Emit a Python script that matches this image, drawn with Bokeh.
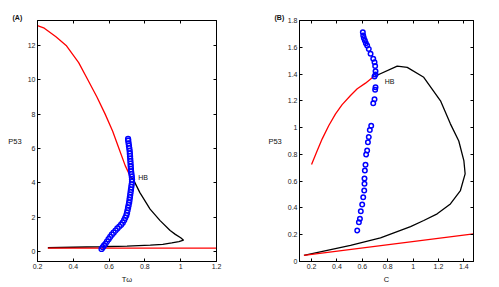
from bokeh.plotting import figure
from bokeh.layouts import row
from bokeh.models import Range1d, FixedTicker, LinearAxis, Label, Title
from bokeh.embed import file_html
from bokeh.resources import INLINE

# ---------------- Panel A data ----------------
a_red_upper_x = [0.2, 0.238, 0.303, 0.36, 0.43, 0.481, 0.532, 0.578, 0.62, 0.655, 0.69, 0.722]
a_red_upper_y = [13.15, 13.0, 12.5, 12.0, 11.0, 10.0, 9.0, 8.0, 7.0, 6.0, 5.0, 4.3]
a_red_lower_x = [0.258, 1.2]
a_red_lower_y = [0.2, 0.2]
a_black_x = [0.258, 0.4, 0.55, 0.7, 0.83, 0.9, 0.95, 0.99, 1.016, 1.0, 0.97, 0.941, 0.885, 0.829, 0.772, 0.735, 0.724]
a_black_y = [0.22, 0.25, 0.28, 0.32, 0.37, 0.42, 0.5, 0.58, 0.66, 0.8, 1.0, 1.22, 1.8, 2.47, 3.43, 4.2, 4.3]
a_blue_x = [0.558, 0.565, 0.572, 0.58, 0.588, 0.597, 0.606, 0.615, 0.625, 0.636, 0.646, 0.657,
            0.667, 0.676, 0.684, 0.69, 0.696, 0.7, 0.703, 0.706, 0.709, 0.712, 0.714, 0.716,
            0.718, 0.72, 0.722, 0.724, 0.726, 0.728, 0.728, 0.727, 0.725, 0.723, 0.722, 0.721,
            0.72, 0.719, 0.718, 0.717, 0.716, 0.715, 0.713, 0.711, 0.709, 0.707, 0.706]
a_blue_y = [0.15, 0.25, 0.35, 0.45, 0.58, 0.72, 0.85, 0.98, 1.1, 1.22, 1.34, 1.45,
            1.56, 1.68, 1.82, 1.96, 2.1, 2.25, 2.4, 2.55, 2.7, 2.85, 3.0, 3.15,
            3.3, 3.45, 3.6, 3.75, 3.9, 4.05, 4.2, 4.35, 4.5, 4.65, 4.8, 4.95,
            5.1, 5.25, 5.4, 5.55, 5.7, 5.85, 6.0, 6.15, 6.3, 6.45, 6.55]
a_xticks = [0.2, 0.4, 0.6, 0.8, 1.0, 1.2]
a_xtick_labels = ["0.2", "0.4", "0.6", "0.8", "1", "1.2"]
a_yticks = [0, 2, 4, 6, 8, 10, 12]
a_ytick_labels = ["0", "2", "4", "6", "8", "10", "12"]

# ---------------- Panel B data ----------------
b_red_upper_x = [0.2, 0.245, 0.284, 0.336, 0.389, 0.441, 0.507, 0.56, 0.625, 0.69]
b_red_upper_y = [0.724, 0.829, 0.916, 1.016, 1.103, 1.172, 1.24, 1.29, 1.332, 1.382]
b_red_lower_x = [0.14, 1.476]
b_red_lower_y = [0.045, 0.207]
b_black_x = [0.69, 0.875, 0.954, 1.084, 1.216, 1.294, 1.36, 1.40, 1.41, 1.373, 1.294, 1.19, 1.084, 0.98, 0.743, 0.507, 0.14]
b_black_y = [1.38, 1.459, 1.45, 1.376, 1.2, 1.028, 0.90, 0.754, 0.655, 0.53, 0.43, 0.356, 0.306, 0.261, 0.177, 0.12, 0.045]
b_blue_x = [0.604, 0.607, 0.612, 0.62, 0.628, 0.638, 0.651, 0.665, 0.686, 0.696, 0.701, 0.704,
            0.704, 0.696, 0.704, 0.701, 0.696, 0.686, 0.670, 0.659, 0.651, 0.644, 0.638, 0.630,
            0.625, 0.620, 0.617, 0.617, 0.615, 0.607, 0.599, 0.588, 0.581, 0.573, 0.560]
b_blue_y = [1.713, 1.688, 1.670, 1.65, 1.63, 1.613, 1.588, 1.551, 1.514, 1.489, 1.461, 1.421,
            1.397, 1.382, 1.302, 1.282, 1.212, 1.182, 1.013, 0.983, 0.929, 0.891, 0.829, 0.799,
            0.722, 0.680, 0.620, 0.580, 0.530, 0.480, 0.426, 0.376, 0.319, 0.294, 0.232]
b_xticks = [0.2, 0.4, 0.6, 0.8, 1.0, 1.2, 1.4]
b_xtick_labels = ["0.2", "0.4", "0.6", "0.8", "1", "1.2", "1.4"]
b_yticks = [0, 0.2, 0.4, 0.6, 0.8, 1.0, 1.2, 1.4, 1.6, 1.8]
b_ytick_labels = ["0", "0.2", "0.4", "0.6", "0.8", "1", "1.2", "1.4", "1.6", "1.8"]

FONT = "Liberation Sans"
FS = "7px"


def style_axis(ax, ticks, labels, show_labels, axis_label=None):
    ax.ticker = FixedTicker(ticks=ticks)
    ax.major_label_overrides = {t: (l if show_labels else "") for t, l in zip(ticks, labels)}
    ax.major_tick_in = 3
    ax.major_tick_out = 0
    ax.minor_tick_in = 0
    ax.minor_tick_out = 0
    ax.axis_line_color = "black"
    ax.major_tick_line_color = "black"
    ax.major_label_text_font = FONT
    ax.major_label_text_font_size = FS if show_labels else "1px"
    ax.major_label_text_color = "#222222"
    ax.major_label_standoff = 2
    if axis_label:
        ax.axis_label = axis_label
        ax.axis_label_text_font = FONT
        ax.axis_label_text_font_size = "7.5px"
        ax.axis_label_text_font_style = "normal"
        ax.axis_label_text_color = "#111111"
        ax.axis_label_standoff = 3
        ax.axis_label_orientation = "horizontal"


def make_fig(width, height, xr, yr, borders, xticks, xlabels, yticks, ylabels,
             xname, yname, tag):
    p = figure(width=width, height=height, x_range=Range1d(*xr), y_range=Range1d(*yr),
               output_backend="svg", toolbar_location=None,
               min_border_left=borders[0], min_border_right=borders[1],
               min_border_top=borders[2], min_border_bottom=borders[3],
               x_axis_location=None, y_axis_location=None)
    p.grid.visible = False
    p.outline_line_color = "black"
    p.background_fill_color = "white"
    p.border_fill_color = "white"
    bx = LinearAxis(); style_axis(bx, xticks, xlabels, True, xname); p.add_layout(bx, "below")
    ly = LinearAxis(); style_axis(ly, yticks, ylabels, True, yname); p.add_layout(ly, "left")
    tx = LinearAxis(); style_axis(tx, xticks, xlabels, False); p.add_layout(tx, "above")
    ry = LinearAxis(); style_axis(ry, yticks, ylabels, False); p.add_layout(ry, "right")
    p.add_layout(Title(text=tag, align="left", offset=-25, text_font=FONT,
                       text_font_size="7px", text_font_style="bold",
                       text_color="#111111", standoff=0), "above")
    return p


H = 287

# ---------------- Panel A ----------------
pa = make_fig(250, H, (0.2, 1.2), (-0.58, 13.45), (37, 34, 19, H - 263),
              a_xticks, a_xtick_labels, a_yticks, a_ytick_labels, "T\u03c9", "P53", "(A)")
pa.line(a_red_upper_x, a_red_upper_y, line_color="#ff0000", line_width=1.3)
pa.line(a_black_x, a_black_y, line_color="black", line_width=1.3)
pa.line(a_red_lower_x, a_red_lower_y, line_color="#ff0000", line_width=1.3)
pa.scatter(a_blue_x, a_blue_y, marker="circle", size=5, fill_color=None,
           line_color="#0000ff", line_width=1.3)
pa.add_layout(Label(x=0.763, y=4.33, text="HB", text_font=FONT, text_font_size=FS,
                    text_baseline="middle", text_color="#111111"))

# ---------------- Panel B ----------------
pb = make_fig(249, H, (0.105, 1.476), (0, 1.8), (49, 26, 20, H - 261),
              b_xticks, b_xtick_labels, b_yticks, b_ytick_labels, "C", "P53", "(B)")
pb.line(b_red_upper_x, b_red_upper_y, line_color="#ff0000", line_width=1.3)
pb.line(b_black_x, b_black_y, line_color="black", line_width=1.3)
pb.line(b_red_lower_x, b_red_lower_y, line_color="#ff0000", line_width=1.3)
pb.scatter(b_blue_x, b_blue_y, marker="circle", size=4.5, fill_color=None,
           line_color="#0000ff", line_width=1.5)
pb.add_layout(Label(x=0.777, y=1.344, text="HB", text_font=FONT, text_font_size=FS,
                    text_baseline="middle", text_color="#111111"))

layout = row(pa, pb)
open("out.html", "w").write(file_html(layout, INLINE))
